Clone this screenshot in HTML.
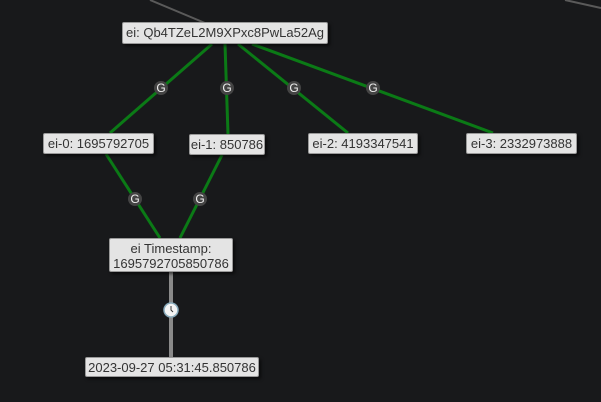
<!DOCTYPE html>
<html><head><style>
body{margin:0;width:601px;height:402px;background:#18191b;overflow:hidden;position:relative;font-family:"Liberation Sans",sans-serif}
.n{position:absolute;background:#e4e4e4;border:1px solid #999;border-radius:2px;box-sizing:border-box;color:#333;font-size:13px;text-align:center;line-height:19px;box-shadow:2px 2px 3px rgba(0,0,0,.6);white-space:nowrap}
svg{position:absolute;left:0;top:0}
</style></head><body>
<svg width="601" height="402">
<g stroke="#5a5a5a" stroke-width="2"><line x1="150" y1="0" x2="205" y2="23"/><line x1="565" y1="0" x2="601" y2="8"/></g>
<g stroke="#0b7a16" stroke-width="3">
<line x1="212" y1="44" x2="110" y2="133"/><line x1="225" y1="44" x2="228" y2="134"/>
<line x1="238" y1="44" x2="348" y2="133"/><line x1="252" y1="44" x2="493" y2="133"/>
<line x1="106" y1="154" x2="160" y2="238"/><line x1="222" y1="155" x2="180" y2="238"/>
</g>
<line x1="171" y1="272" x2="171" y2="357" stroke="#8a8a8a" stroke-width="4"/>
<g font-family="Liberation Sans" font-size="12" fill="#eee" text-anchor="middle">
<g><circle cx="161" cy="88" r="7" fill="#444"/><text x="161" y="92">G</text></g>
<g><circle cx="227" cy="88" r="7" fill="#444"/><text x="227" y="92">G</text></g>
<g><circle cx="294" cy="88" r="7" fill="#444"/><text x="294" y="92">G</text></g>
<g><circle cx="373" cy="88" r="7" fill="#444"/><text x="373" y="92">G</text></g>
<g><circle cx="135" cy="199" r="7" fill="#444"/><text x="135" y="203">G</text></g>
<g><circle cx="200" cy="199" r="7" fill="#444"/><text x="200" y="203">G</text></g>
</g>
<circle cx="171" cy="310" r="7" fill="#f4f4f4" stroke="#8ab" stroke-width="1.5"/>
<path d="M171 306v4l2 2" stroke="#333" fill="none"/>
</svg>
<div class="n" style="left:122px;top:22px;width:206px;height:22px;line-height:20px">ei: Qb4TZeL2M9XPxc8PwLa52Ag</div>
<div class="n" style="left:43px;top:133px;width:111px;height:21px">ei-0: 1695792705</div>
<div class="n" style="left:189px;top:134px;width:76px;height:21px">ei-1: 850786</div>
<div class="n" style="left:308px;top:133px;width:110px;height:21px">ei-2: 4193347541</div>
<div class="n" style="left:466px;top:133px;width:111px;height:21px">ei-3: 2332973888</div>
<div class="n" style="left:109px;top:238px;width:124px;height:34px;line-height:15px;padding-top:2px">ei Timestamp:<br>1695792705850786</div>
<div class="n" style="left:85px;top:357px;width:174px;height:20px;line-height:19px">2023-09-27 05:31:45.850786</div>
</body></html>
